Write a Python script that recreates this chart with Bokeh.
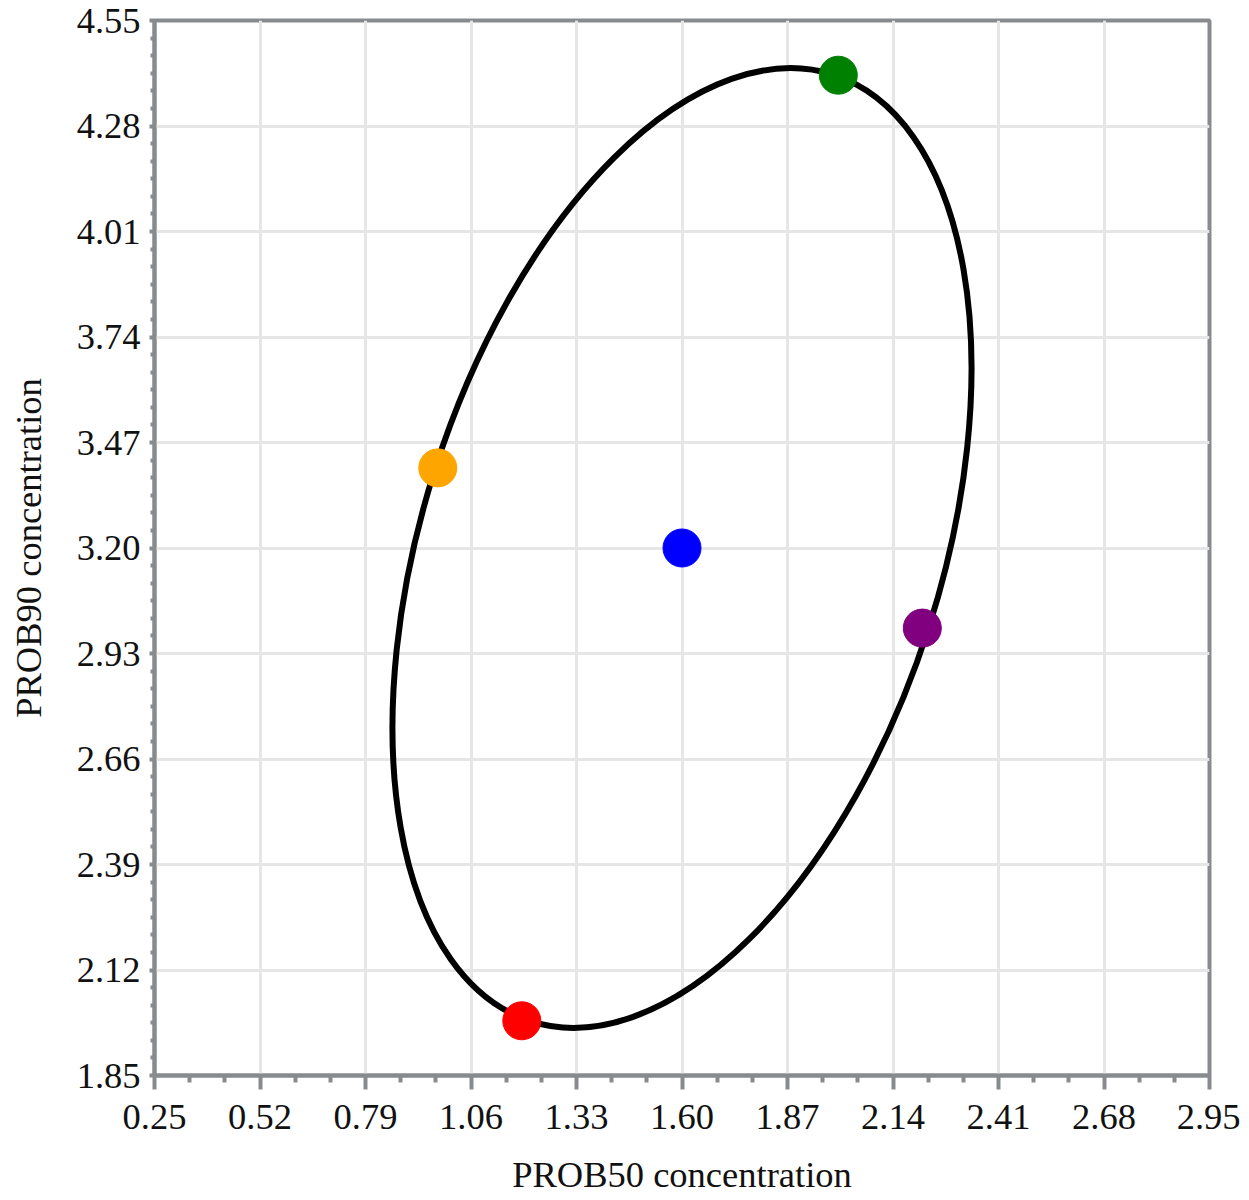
from bokeh.plotting import figure
from bokeh.models import Range1d, FixedTicker, ColumnDataSource
from bokeh.embed import file_html
from bokeh.resources import INLINE

# ---- data ----
x_ticks = [0.25, 0.52, 0.79, 1.06, 1.33, 1.60, 1.87, 2.14, 2.41, 2.68, 2.95]
y_ticks = [1.85, 2.12, 2.39, 2.66, 2.93, 3.20, 3.47, 3.74, 4.01, 4.28, 4.55]

point_x = [1.60, 2.00, 2.215, 0.975, 1.19]
point_y = [3.20, 4.41, 2.995, 3.405, 1.99]
point_color = ["#0000ff", "#008000", "#800080", "#ffa500", "#ff0000"]

ellipse_cx = [1.60]
ellipse_cy = [3.20]
ellipse_major = [2.543]   # full length of major axis
ellipse_minor = [1.327]   # full length of minor axis
ellipse_angle_deg = [72.3]

x_label = "PROB50 concentration"
y_label = "PROB90 concentration"

# ---- styling ----
FONT = "Liberation Serif"
GRAY = "#888b8e"

x_minor = [x_ticks[i] + (x_ticks[i + 1] - x_ticks[i]) * k / 3
           for i in range(len(x_ticks) - 1) for k in range(1, 3)]
y_minor = [y_ticks[i] + (y_ticks[i + 1] - y_ticks[i]) * k / 6
           for i in range(len(y_ticks) - 1) for k in range(1, 6)]

p = figure(width=1240, height=1195, frame_width=1055, frame_height=1055,
           x_range=Range1d(x_ticks[0], x_ticks[-1]),
           y_range=Range1d(y_ticks[0], y_ticks[-1]),
           output_backend="svg", toolbar_location=None,
           min_border_left=154, min_border_top=20,
           min_border_right=31, min_border_bottom=120)

p.background_fill_color = "white"
p.border_fill_color = "white"
p.outline_line_color = GRAY
p.outline_line_width = 4

p.xaxis.ticker = FixedTicker(ticks=x_ticks, minor_ticks=x_minor)
p.yaxis.ticker = FixedTicker(ticks=y_ticks, minor_ticks=y_minor)
p.xaxis.major_label_overrides = {t: f"{t:.2f}" for t in x_ticks}
p.yaxis.major_label_overrides = {t: f"{t:.2f}" for t in y_ticks}

for ax in (p.xaxis, p.yaxis):
    ax.axis_line_color = GRAY
    ax.axis_line_width = 4
    ax.major_tick_line_color = GRAY
    ax.minor_tick_line_color = GRAY
    ax.major_tick_line_width = 4
    ax.minor_tick_line_width = 4
    ax.major_tick_in = 0
    ax.minor_tick_in = 0
    ax.major_label_text_font = FONT
    ax.major_label_text_font_size = "36.5px"
    ax.major_label_text_color = "#111111"
    ax.axis_label_text_font = FONT
    ax.axis_label_text_font_size = "36.5px"
    ax.axis_label_text_font_style = "normal"
    ax.axis_label_text_color = "#111111"

p.xaxis.major_tick_out = 14
p.xaxis.minor_tick_out = 7
p.xaxis.major_label_standoff = 15
p.xaxis.axis_label_standoff = 22
p.xaxis.axis_label = x_label

p.yaxis.major_tick_out = 5
p.yaxis.minor_tick_out = 4
p.yaxis.major_label_standoff = 9
p.yaxis.axis_label_standoff = 25
p.yaxis.axis_label = y_label

p.xgrid.ticker = FixedTicker(ticks=x_ticks)
p.ygrid.ticker = FixedTicker(ticks=y_ticks)
p.grid.grid_line_color = "#e6e6e6"
p.grid.grid_line_width = 3

ell = ColumnDataSource(dict(x=ellipse_cx, y=ellipse_cy, w=ellipse_major,
                            h=ellipse_minor, a=ellipse_angle_deg))
p.ellipse(x="x", y="y", width="w", height="h", angle="a", angle_units="deg",
          source=ell, fill_color=None, line_color="black", line_width=6)

pts = ColumnDataSource(dict(x=point_x, y=point_y, c=point_color))
p.scatter(x="x", y="y", size=38, fill_color="c", line_color="c", source=pts)

open("out.html", "w").write(file_html(p, INLINE))
